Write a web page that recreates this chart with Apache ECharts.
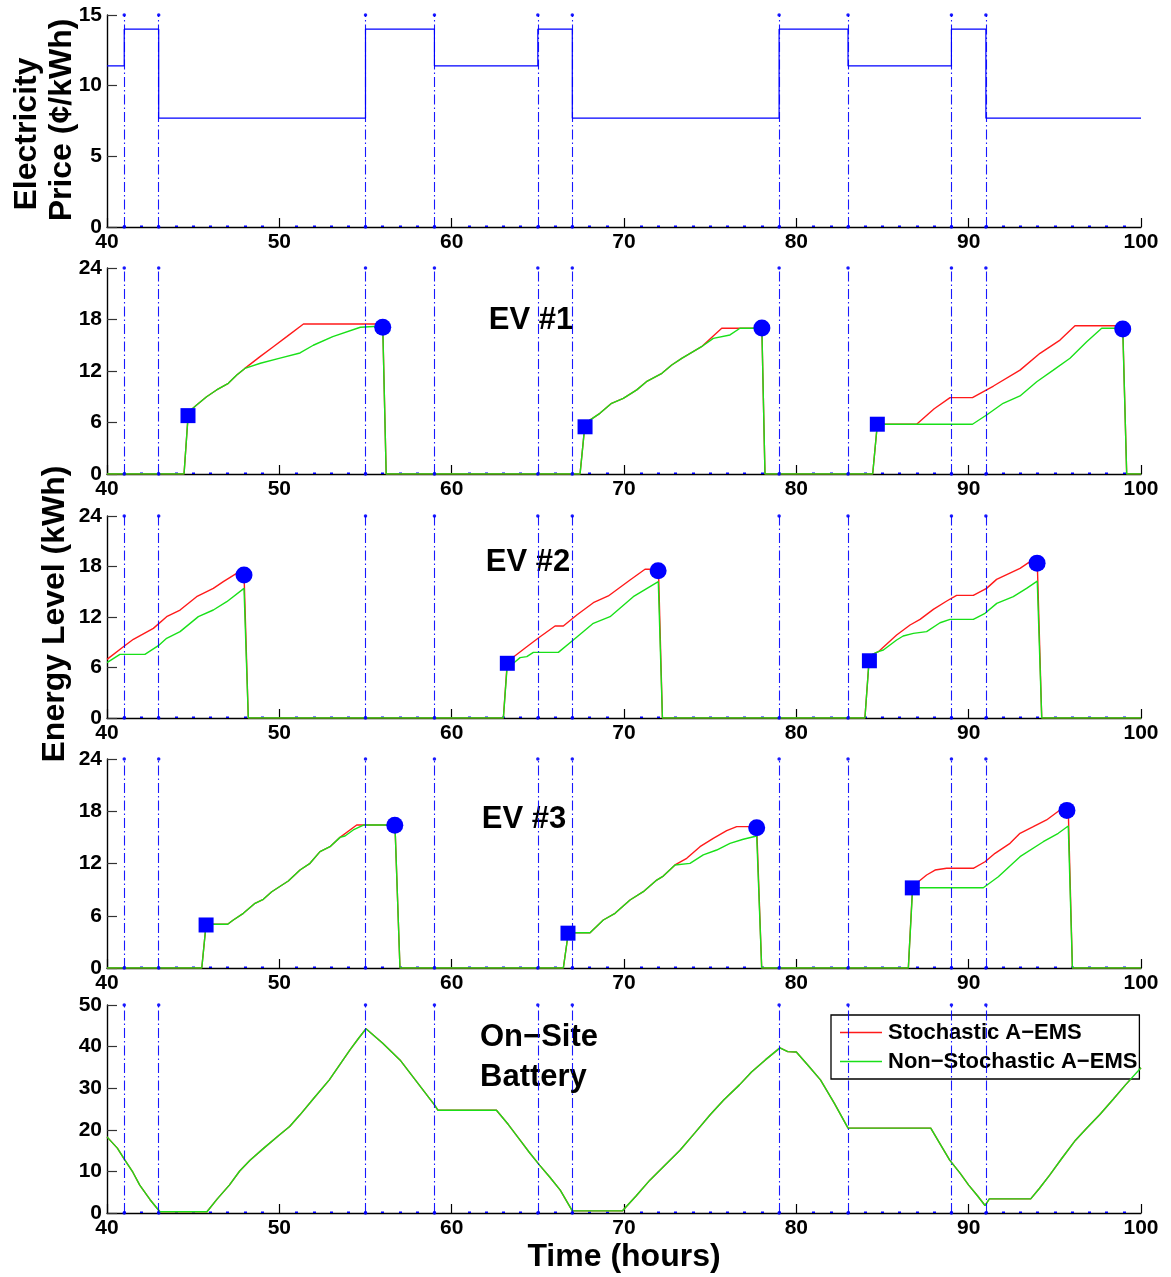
<!DOCTYPE html>
<html>
<head>
<meta charset="utf-8">
<script src="https://cdn.jsdelivr.net/npm/echarts@6/dist/echarts.min.js"></script>
<style>
  html, body { margin: 0; padding: 0; background: #fff; }
  #chart { width: 1171px; height: 1277px; }
</style>
</head>
<body>
<div id="chart"></div>
<script>
// Time-of-use price schedule (¢/kWh), step changes at each listed hour
const priceSteps = [[40, 11.4], [41, 14.0], [43, 7.7], [55, 14.0], [59, 11.4], [65, 14.0],
  [67, 7.7], [79, 14.0], [83, 11.4], [89, 14.0], [91, 7.7], [100, 7.7]];

// Hours at which the tariff switches (dash-dot guides)
const switchHours = [41, 43, 55, 59, 65, 67, 79, 83, 89, 91];

// EV #1 energy level (kWh) vs time (hours)
const ev1Stochastic = [[40, 0], [44.47, 0], [44.72, 7.2], [45.2, 8.04], [45.78, 9.0], [46.36, 9.79], [47.04, 10.56],
  [47.53, 11.53], [48.0, 12.3], [48.88, 13.67], [49.65, 14.83], [50.43, 16.0], [51.4, 17.48], [56.0, 17.48], [56.2, 0],
  [67.45, 0], [67.74, 5.9], [68.6, 7.07], [69.28, 8.24], [69.96, 8.82], [70.74, 9.8], [71.3, 10.75], [72.2, 11.73],
  [72.77, 12.7], [73.35, 13.48], [74.5, 14.83], [75.67, 16.98], [78.0, 16.98], [78.18, 0],
  [84.43, 0], [84.7, 5.8], [86.98, 5.8], [88.0, 7.6], [88.92, 8.9], [90.22, 8.9], [91.44, 10.25], [92.98, 12.1],
  [94.14, 14.06], [95.3, 15.6], [96.17, 17.28], [98.94, 17.28], [99.17, 0], [100, 0]];
const ev1NonStochastic = [[40, 0], [44.47, 0], [44.72, 7.2], [45.2, 8.04], [45.78, 9.0], [46.36, 9.79], [47.04, 10.56],
  [47.53, 11.53], [48.0, 12.3], [48.9, 12.9], [50.04, 13.5], [51.2, 14.1], [51.97, 15.0], [53.1, 16.0], [54.7, 17.1],
  [56.0, 17.24], [56.2, 0],
  [67.45, 0], [67.74, 5.9], [68.6, 7.07], [69.28, 8.24], [69.96, 8.82], [70.74, 9.8], [71.3, 10.75], [72.2, 11.73],
  [72.77, 12.7], [73.35, 13.48], [74.5, 14.83], [75.18, 15.8], [76.15, 16.2], [76.73, 16.98], [78.0, 16.98], [78.18, 0],
  [84.43, 0], [84.7, 5.8], [90.22, 5.8], [91.04, 6.87], [92.0, 8.24], [92.98, 9.09], [93.95, 10.75], [94.91, 12.1],
  [95.88, 13.48], [96.85, 15.41], [97.72, 16.98], [98.94, 16.98], [99.17, 0], [100, 0]];
const ev1Arrivals = [[44.7, 6.8], [67.74, 5.5], [84.7, 5.8]];
const ev1Departures = [[56.0, 17.1], [78.0, 17.0], [98.94, 16.9]];

// EV #2 energy level (kWh)
const ev2Stochastic = [[40, 6.97], [40.95, 8.47], [41.53, 9.35], [42.69, 10.65], [43.46, 12.04], [44.24, 12.83],
  [45.2, 14.41], [46.17, 15.4], [46.75, 16.2], [47.52, 17.19], [47.95, 17.19], [48.2, 0],
  [63.0, 0], [63.23, 6.8], [63.68, 7.4], [64.36, 8.47], [65.13, 9.66], [66.0, 10.93], [66.48, 10.93], [67.26, 12.24],
  [68.22, 13.7], [69.09, 14.5], [70.35, 16.4], [71.22, 17.67], [72.0, 17.67], [72.23, 0],
  [83.98, 0], [84.24, 7.37], [84.76, 7.88], [85.82, 9.86], [86.6, 11.05], [87.18, 11.72], [87.95, 12.91],
  [88.73, 13.9], [89.3, 14.57], [90.27, 14.57], [91.04, 15.4], [91.62, 16.47], [92.98, 17.78], [93.56, 18.57],
  [93.98, 18.57], [94.24, 0], [100, 0]];
const ev2NonStochastic = [[40, 6.57], [40.75, 7.56], [42.2, 7.56], [42.98, 8.59], [43.46, 9.47], [44.24, 10.26],
  [45.3, 12.04], [46.17, 12.83], [46.95, 13.82], [47.95, 15.4], [48.2, 0],
  [63.0, 0], [63.23, 6.4], [63.58, 6.5], [63.97, 7.17], [64.36, 7.29], [64.74, 7.8], [66.19, 7.8], [67.06, 9.27],
  [68.22, 11.25], [69.19, 12.04], [70.54, 14.41], [71.99, 16.2], [72.23, 0],
  [83.98, 0], [84.24, 7.37], [84.76, 7.88], [85.05, 8.08], [85.82, 9.27], [86.2, 9.74], [86.79, 10.06],
  [87.56, 10.26], [88.34, 11.32], [88.92, 11.72], [90.27, 11.72], [90.95, 12.44], [91.63, 13.62], [92.59, 14.41],
  [93.36, 15.4], [93.98, 16.27], [94.24, 0], [100, 0]];
const ev2Arrivals = [[63.23, 6.5], [84.24, 6.8]];
const ev2Departures = [[47.95, 17.0], [71.98, 17.5], [93.97, 18.4]];

// EV #3 energy level (kWh)
const ev3Stochastic = [[40, 0], [45.5, 0], [45.75, 5.02], [47.0, 5.02], [47.33, 5.51], [47.91, 6.28], [48.59, 7.43],
  [49.07, 7.89], [49.56, 8.76], [50.52, 9.99], [51.2, 11.25], [51.78, 12.02], [52.36, 13.36], [52.94, 13.93],
  [53.52, 15.0], [54.49, 16.42], [56.71, 16.42], [57.0, 0],
  [66.48, 0], [66.77, 4.05], [68.03, 4.05], [68.8, 5.51], [69.48, 6.28], [70.35, 7.81], [71.12, 8.76], [71.9, 10.1],
  [72.28, 10.56], [72.96, 11.83], [73.64, 12.6], [74.41, 13.93], [75.18, 14.89], [75.96, 15.77], [76.54, 16.23],
  [77.7, 16.23], [77.99, 0],
  [86.5, 0], [86.75, 9.53], [87.08, 9.91], [87.56, 10.68], [88.05, 11.25], [88.72, 11.45], [90.27, 11.45],
  [90.95, 12.2], [91.53, 13.17], [92.4, 14.32], [92.98, 15.47], [93.75, 16.23], [94.52, 17.0], [95.3, 18.14],
  [95.78, 18.14], [96.02, 0], [100, 0]];
const ev3NonStochastic = [[40, 0], [45.5, 0], [45.75, 5.02], [47.0, 5.02], [47.33, 5.51], [47.91, 6.28], [48.59, 7.43],
  [49.07, 7.89], [49.56, 8.76], [50.52, 9.99], [51.2, 11.25], [51.78, 12.02], [52.36, 13.36], [52.94, 13.93],
  [53.52, 15.0], [53.81, 15.16], [54.29, 15.85], [54.88, 16.42], [56.71, 16.42], [57.0, 0],
  [66.48, 0], [66.77, 4.05], [68.03, 4.05], [68.8, 5.51], [69.48, 6.28], [70.35, 7.81], [71.12, 8.76], [71.9, 10.1],
  [72.28, 10.56], [72.96, 11.83], [73.83, 12.02], [74.6, 12.98], [75.38, 13.55], [76.15, 14.32], [76.92, 14.78],
  [77.7, 15.16], [77.99, 0],
  [86.5, 0], [86.75, 9.22], [90.85, 9.22], [91.72, 10.48], [92.98, 12.78], [94.33, 14.5], [95.2, 15.47],
  [95.78, 16.3], [96.02, 0], [100, 0]];
const ev3Arrivals = [[45.75, 4.94], [66.75, 4.0], [86.73, 9.2]];
const ev3Departures = [[56.7, 16.4], [77.7, 16.1], [95.7, 18.1]];

// On-site battery energy level (kWh)
const batteryStochastic = [[40, 18.3], [40.6, 15.6], [41.04, 12.7], [41.5, 9.8], [41.9, 6.7], [42.5, 3.2],
  [43.07, 0.3], [45.8, 0.3], [46.4, 3.4], [47.1, 6.7], [47.7, 10.1], [48.3, 12.7], [49.1, 15.6], [50, 18.75],
  [50.6, 20.8], [51.2, 23.6], [52.0, 27.6], [52.9, 32], [53.5, 35.6], [54.1, 39.2], [54.6, 42.0], [55.03, 44.3],
  [56.0, 40.8], [57, 36.8], [58.0, 31.4], [59.0, 26], [59.2, 24.7], [62.6, 24.7], [63.3, 21.2], [63.97, 17.5],
  [64.5, 14.6], [65.1, 11.5], [65.7, 8.6], [66.3, 5.5], [67.0, 0.5], [69.9, 0.5], [70.7, 4.1], [71.5, 7.9],
  [72.3, 11.2], [73.25, 15.1], [74.1, 19.2], [75, 23.6], [75.8, 27.2], [76.7, 30.8], [77.4, 33.9], [78.2, 36.8],
  [79.05, 39.7], [79.5, 38.8], [80.0, 38.7], [80.7, 35.4], [81.4, 32], [82.2, 26.4], [83, 20.4], [87.8, 20.4],
  [88.4, 16.2], [88.9, 12.7], [89.5, 9.6], [90, 6.7], [90.5, 4.2], [90.95, 1.8], [91.2, 3.4], [93.6, 3.4],
  [94.1, 5.9], [94.7, 9.1], [95.4, 13.1], [96.2, 17.5], [96.9, 20.6], [97.6, 23.6], [98.4, 27.4], [99.1, 30.8],
  [100, 34.9]];
const batteryNonStochastic = batteryStochastic.slice();

const FONT = '"Liberation Sans", Arial, Helvetica, sans-serif';
const BLUE = '#0000ff';
const RED = '#ff1a1a';
const GREEN = '#19e019';
const NAME_S = 'Stochastic A\u2212EMS';
const NAME_N = 'Non\u2212Stochastic A\u2212EMS';

const panelBoxes = [
  { top: 15, height: 212, max: 15, interval: 5 },
  { top: 268, height: 206, max: 24, interval: 6 },
  { top: 516, height: 202, max: 24, interval: 6 },
  { top: 759, height: 209, max: 24, interval: 6 },
  { top: 1005, height: 208, max: 50, interval: 10 }
];

const grid = panelBoxes.map(p => ({ left: 107, right: 30, top: p.top, height: p.height }));

const xAxis = panelBoxes.map((p, i) => ({
  type: 'value', gridIndex: i, min: 40, max: 100, interval: 10,
  axisLine: { show: true, onZero: false, lineStyle: { color: '#000', width: 1.4 } },
  axisTick: { show: true, inside: true, length: 9, lineStyle: { color: '#000', width: 1.2 } },
  minorTick: { show: true, splitNumber: 10, length: 1.5, lineStyle: { color: BLUE, width: 3 } },
  axisLabel: { color: '#000', fontFamily: FONT, fontWeight: 'bold', fontSize: 21, margin: 5 },
  splitLine: { show: false }
}));

const yAxis = panelBoxes.map((p, i) => ({
  type: 'value', gridIndex: i, min: 0, max: p.max, interval: p.interval,
  axisLine: { show: true, lineStyle: { color: '#000', width: 1.4 } },
  axisTick: { show: true, inside: true, length: 10, lineStyle: { color: '#333', width: 1.2 } },
  axisLabel: { color: '#000', fontFamily: FONT, fontWeight: 'bold', fontSize: 21, margin: 5 },
  splitLine: { show: false }
}));

// Dash-dot guides at every tariff switch, with a dot at each end
function guides() {
  return {
    silent: true,
    symbol: ['circle', 'circle'],
    symbolSize: 3.5,
    label: { show: false },
    lineStyle: { color: BLUE, width: 1.1, type: [10, 3, 1.5, 3], opacity: 0.9 },
    emphasis: { disabled: true },
    data: switchHours.map(h => ({ xAxis: h }))
  };
}

function lineSeries(name, data, idx, color, withGuides) {
  const s = {
    name, type: 'line', data, xAxisIndex: idx, yAxisIndex: idx,
    showSymbol: false, symbol: 'none', silent: true,
    lineStyle: { color, width: 1.4 }, itemStyle: { color },
    z: color === GREEN ? 4 : 3
  };
  if (withGuides) s.markLine = guides();
  return s;
}

function markerSeries(data, idx, shape, size) {
  return {
    type: 'scatter', data, xAxisIndex: idx, yAxisIndex: idx,
    symbol: shape, symbolSize: size, silent: true,
    itemStyle: { color: BLUE, opacity: 1 }, z: 5
  };
}

const series = [
  {
    name: 'Price', type: 'line', data: priceSteps, step: 'end', xAxisIndex: 0, yAxisIndex: 0,
    showSymbol: false, symbol: 'none', silent: true,
    lineStyle: { color: BLUE, width: 1.2 }, markLine: guides(), z: 3
  },
  lineSeries(NAME_S, ev1Stochastic, 1, RED, true),
  lineSeries(NAME_N, ev1NonStochastic, 1, GREEN, false),
  markerSeries(ev1Arrivals, 1, 'rect', 15),
  markerSeries(ev1Departures, 1, 'circle', 17),
  lineSeries(NAME_S, ev2Stochastic, 2, RED, true),
  lineSeries(NAME_N, ev2NonStochastic, 2, GREEN, false),
  markerSeries(ev2Arrivals, 2, 'rect', 15),
  markerSeries(ev2Departures, 2, 'circle', 17),
  lineSeries(NAME_S, ev3Stochastic, 3, RED, true),
  lineSeries(NAME_N, ev3NonStochastic, 3, GREEN, false),
  markerSeries(ev3Arrivals, 3, 'rect', 15),
  markerSeries(ev3Departures, 3, 'circle', 17),
  lineSeries(NAME_S, batteryStochastic, 4, RED, true),
  lineSeries(NAME_N, batteryNonStochastic, 4, GREEN, false)
];

function label(text, x, y, size, opts) {
  return Object.assign({
    type: 'text', x, y, silent: true,
    style: {
      text, fill: '#000', font: 'bold ' + size + 'px ' + FONT,
      textAlign: 'center', textVerticalAlign: 'middle'
    }
  }, opts || {});
}

const option = {
  animation: false,
  backgroundColor: '#fff',
  grid, xAxis, yAxis, series,
  legend: {
    data: [{ name: NAME_S }, { name: NAME_N }],
    orient: 'vertical', left: 831, top: 1015,
    icon: 'rect', itemWidth: 42, itemHeight: 1.5, itemGap: 6,
    padding: [6, 2, 6, 9],
    backgroundColor: '#fff', borderColor: '#000', borderWidth: 1.3, borderRadius: 0,
    selectedMode: false,
    textStyle: { color: '#000', fontFamily: FONT, fontWeight: 'bold', fontSize: 22, lineHeight: 23, padding: [0, 0, 0, 1] }
  },
  graphic: [
    label('Electricity', 27, 134, 32, { rotation: Math.PI / 2 }),
    label('Price (\u00a2/kWh)', 62, 120, 32, { rotation: Math.PI / 2 }),
    label('Energy Level (kWh)', 55, 614, 32, { rotation: Math.PI / 2 }),
    label('EV #1', 531, 320, 31),
    label('EV #2', 528, 562, 31),
    label('EV #3', 524, 819, 31),
    {
      type: 'text', x: 480, y: 1037, silent: true,
      style: { text: 'On\u2212Site', fill: '#000', font: 'bold 31px ' + FONT, textAlign: 'left', textVerticalAlign: 'middle' }
    },
    {
      type: 'text', x: 480, y: 1077, silent: true,
      style: { text: 'Battery', fill: '#000', font: 'bold 31px ' + FONT, textAlign: 'left', textVerticalAlign: 'middle' }
    },
    label('Time (hours)', 624, 1257, 32)
  ]
};

const chart = echarts.init(document.getElementById('chart'), null, { renderer: 'canvas' });
chart.setOption(option);
</script>
</body>
</html>
